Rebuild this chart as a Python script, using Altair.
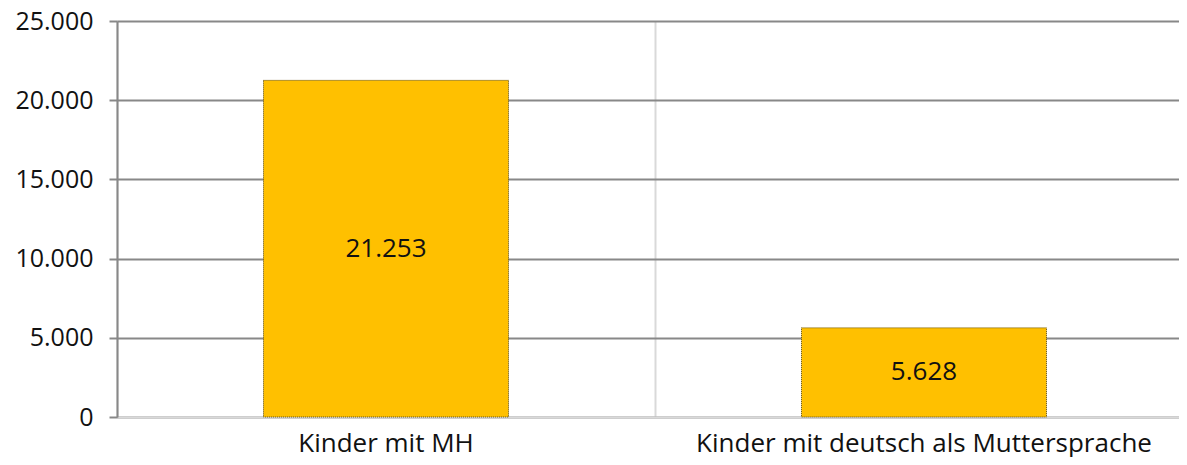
import altair as alt
import pandas as pd

categories = ["Kinder mit MH", "Kinder mit deutsch als Muttersprache"]
values = [21253, 5628]
labels = ["21.253", "5.628"]

df = pd.DataFrame({"cat": categories, "val": values, "lab": labels})

FONT = "Open Sans"

x = alt.X("cat:N", sort=categories, title=None,
          scale=alt.Scale(paddingInner=0, paddingOuter=0),
          axis=alt.Axis(labelAngle=0, labelFontSize=26, labelFont=FONT, labelColor="#111111",
                        labelPadding=13, labelLimit=0, ticks=False, domainColor="#d9d9d9", domainWidth=2,
                        grid=True, gridColor="#d9d9d9", gridWidth=2, bandPosition=0))

base = alt.Chart(df)

bars = base.mark_bar(size=245, color="#FFC000", stroke="#5a4a10", strokeWidth=1,
                     strokeDash=[1, 1]).encode(
    x=x,
    y=alt.Y("val:Q", title=None,
            scale=alt.Scale(domain=[0, 25000], nice=False),
            axis=alt.Axis(values=[0, 5000, 10000, 15000, 20000, 25000],
                          labelExpr="replace(format(datum.value, ',d'), ',', '.')",
                          labelFontSize=25, labelFont=FONT, labelColor="#111111",
                          labelPadding=16, tickSize=8, tickColor="#888888", tickWidth=2,
                          domainColor="#888888", domainWidth=2,
                          gridColor="#888888", gridWidth=2)),
)

text = base.transform_calculate(mid="datum.val / 2").mark_text(
    fontSize=26, font=FONT, color="#111111", baseline="middle").encode(
    x=alt.X("cat:N", sort=categories),
    y=alt.Y("mid:Q"),
    text="lab:N",
)

chart = alt.layer(bars, text).properties(
    width=1076, height=396,
    autosize=alt.AutoSizeParams(type="none"),
    padding={"left": 109, "top": 13, "right": -14, "bottom": 40},
).configure_view(stroke=None)

chart.save("out.html", embed_options={"renderer": "svg", "actions": False})
